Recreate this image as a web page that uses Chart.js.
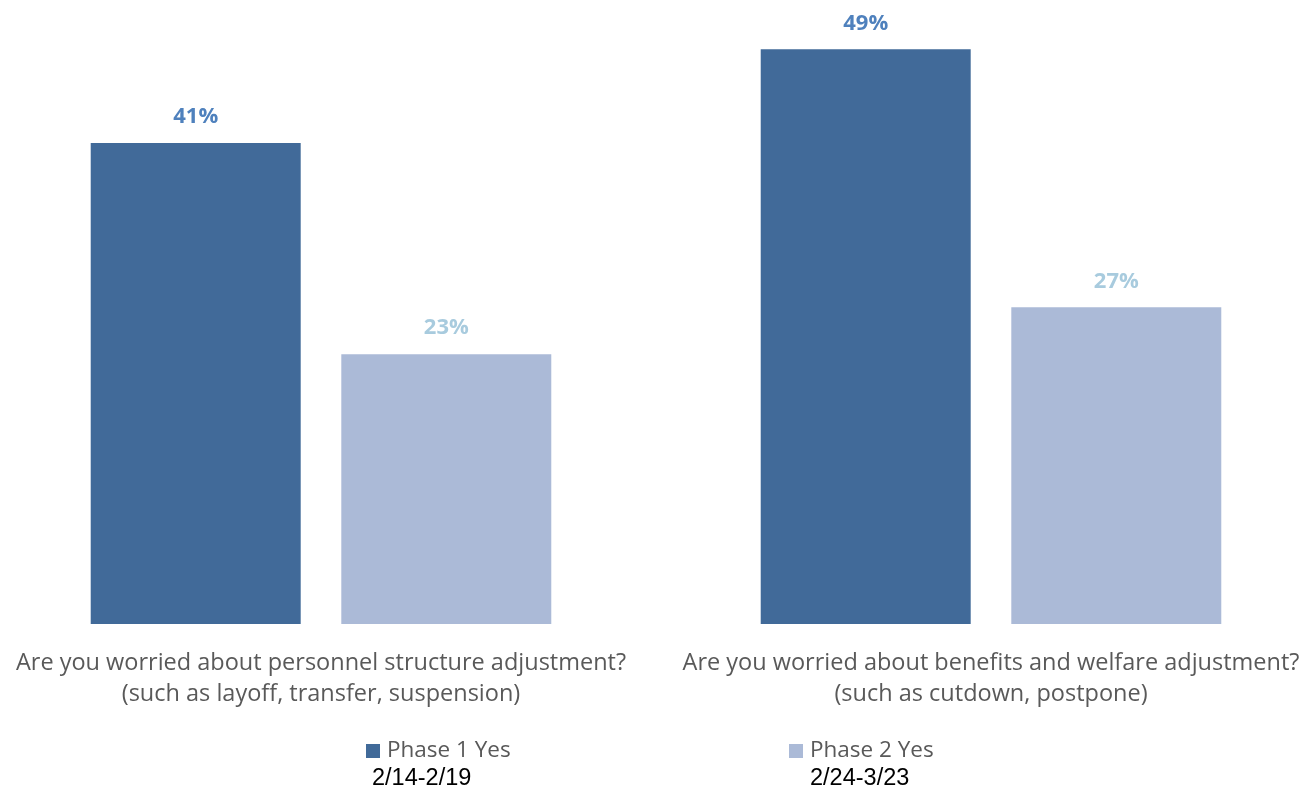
<!DOCTYPE html>
<html>
<head>
<meta charset="utf-8">
<script src="https://cdn.jsdelivr.net/npm/chart.js@4.4.1/dist/chart.umd.min.js"></script>
<style>
  html, body { margin: 0; padding: 0; background: #ffffff; overflow: hidden; }
  #wrap { position: absolute; left: -14px; top: 0; width: 1340px; height: 790px; }
</style>
</head>
<body>
<div id="wrap"><canvas id="chart"></canvas></div>
<script>
// Survey questions (two-line category labels)
const categories = [
  ['Are you worried about personnel structure adjustment?', '(such as layoff, transfer, suspension)'],
  ['Are you worried about benefits and welfare adjustment?', '(such as cutdown, postpone)']
];
const seriesNames = ['Phase 1 Yes', 'Phase 2 Yes'];
const seriesPeriods = ['2/14-2/19', '2/24-3/23'];
const phase1Yes = [41, 49];
const phase2Yes = [23, 27];

const barColors = ['#416a99', '#abbad7'];
const valueColors = ['#4f81bd', '#a8cbde'];
const labelFont = '"Open Sans", "Noto Sans", sans-serif';

// Percent labels above each bar, positioned from the bar elements
const valueLabels = {
  id: 'valueLabels',
  afterDatasetsDraw(chart) {
    const ctx = chart.ctx;
    ctx.save();
    ctx.textAlign = 'center';
    ctx.textBaseline = 'middle';
    ctx.font = 'bold 22px ' + labelFont;
    chart.data.datasets.forEach((ds, i) => {
      chart.getDatasetMeta(i).data.forEach((bar, j) => {
        ctx.fillStyle = valueColors[i];
        ctx.fillText(ds.data[j] + '%', bar.x, bar.y - 26);
      });
    });
    ctx.restore();
  }
};

// Legend with the survey period under each entry
const periodLegend = {
  id: 'periodLegend',
  afterDraw(chart) {
    const ctx = chart.ctx;
    const entries = [{ box: 380, period: 386 }, { box: 803, period: 824 }];
    ctx.save();
    chart.data.datasets.forEach((ds, i) => {
      const e = entries[i];
      ctx.fillStyle = ds.backgroundColor;
      ctx.fillRect(e.box, 744, 14, 14);
      ctx.fillStyle = '#595959';
      ctx.font = '22.5px ' + labelFont;
      ctx.textAlign = 'left';
      ctx.textBaseline = 'middle';
      ctx.fillText(ds.label, e.box + 21, 751);
      ctx.fillStyle = '#000000';
      ctx.font = '23.5px "Liberation Sans", Arial, sans-serif';
      ctx.fillText(seriesPeriods[i], e.period, 779);
    });
    ctx.restore();
  }
};

new Chart(document.getElementById('chart'), {
  type: 'bar',
  data: {
    labels: categories,
    datasets: [
      { label: seriesNames[0], data: phase1Yes, backgroundColor: barColors[0] },
      { label: seriesNames[1], data: phase2Yes, backgroundColor: barColors[1] }
    ]
  },
  options: {
    responsive: true,
    maintainAspectRatio: false,
    animation: false,
    events: [],
    layout: { padding: { top: 0, bottom: 76, left: 0, right: 0 } },
    datasets: { bar: { categoryPercentage: 0.748, barPercentage: 0.838 } },
    plugins: {
      legend: { display: false },
      tooltip: { enabled: false }
    },
    scales: {
      x: {
        grid: { display: false, drawTicks: false },
        border: { display: false },
        ticks: {
          color: '#595959',
          padding: 24,
          maxRotation: 0,
          autoSkip: false,
          font: { family: labelFont, size: 23.5, lineHeight: '31px' }
        },
        afterFit(scale) { scale.height = 90; }
      },
      y: {
        display: false,
        min: 0,
        max: 53.2
      }
    }
  },
  plugins: [valueLabels, periodLegend]
});
</script>
</body>
</html>
